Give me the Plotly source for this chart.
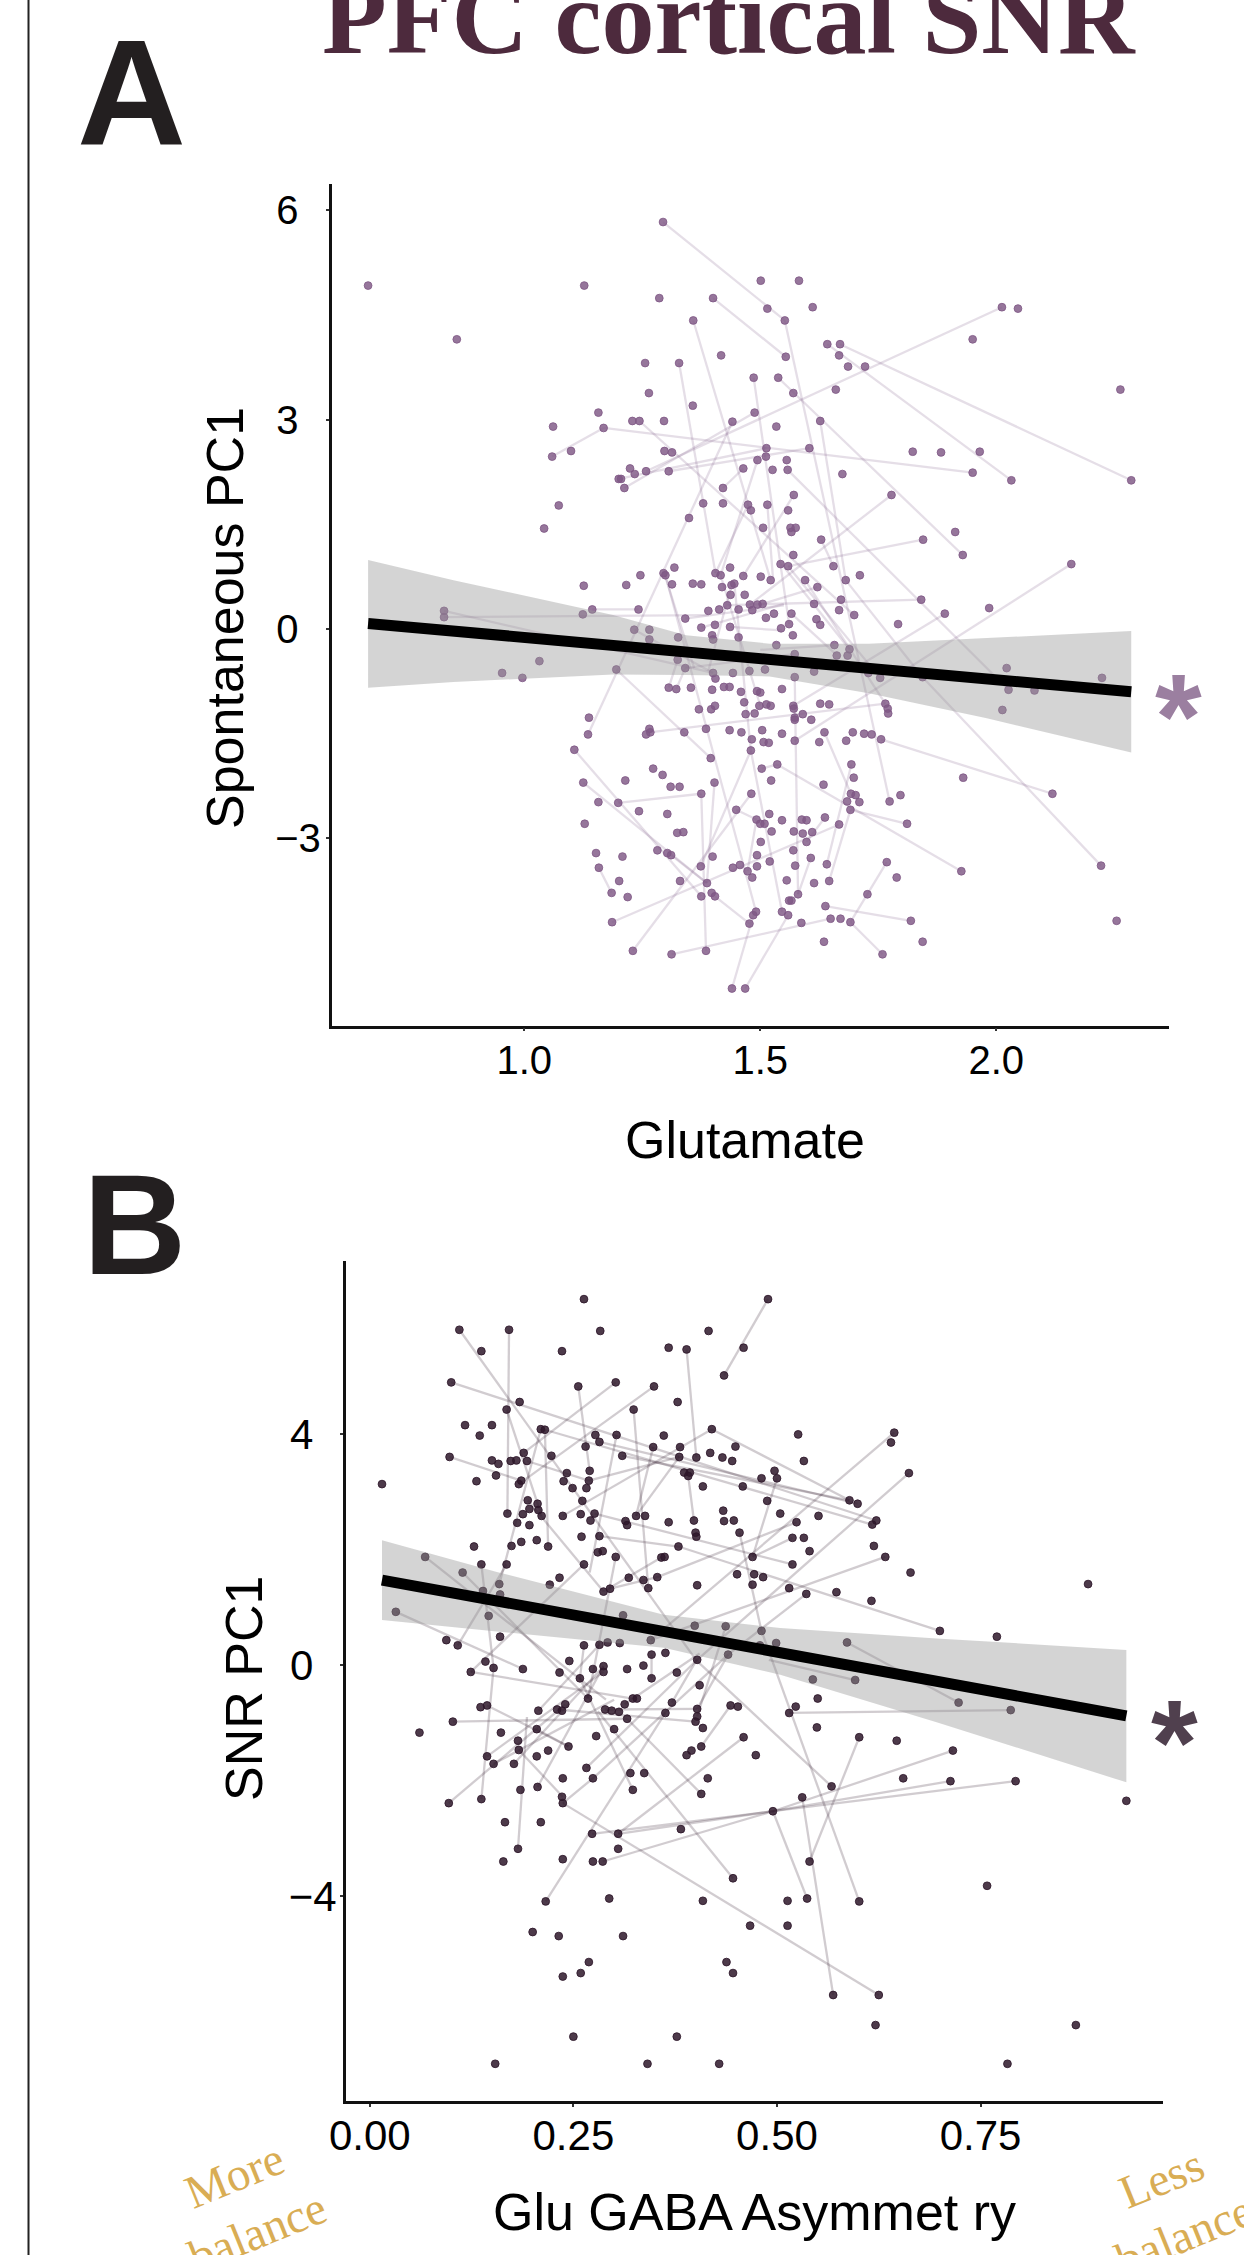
import plotly.graph_objects as go

W, H = 1244, 2255

glutamate = [
 1.294,1.501,0.669,1.127,1.286,1.400,1.515,1.358,0.857,1.417,1.256,1.328,1.486,1.538,1.264,1.357,1.157,1.488,1.229,1.244,
 1.296,1.441,1.061,1.168,1.534,1.513,1.099,1.297,1.313,1.059,1.512,1.494,1.224,1.464,1.526,1.258,1.306,1.234,1.200,1.205,
 1.212,1.421,1.379,1.421,1.474,1.515,1.480,1.073,1.349,1.042,1.506,1.318,1.436,1.543,1.295,1.405,1.246,1.299,1.416,1.464,
 1.501,1.522,
 1.582,1.611,2.012,2.046,1.552,1.554,1.950,1.642,1.669,1.667,1.686,1.722,1.570,1.660,2.263,1.627,1.604,1.823,1.883,1.965,
 1.556,1.558,1.950,1.674,2.032,2.286,1.571,1.778,1.559,1.564,1.575,1.566,1.913,1.629,1.845,1.570,1.929,1.559,1.655,2.159,
 1.711,1.595,1.681,
 1.126,1.216,1.313,1.357,1.375,1.419,1.439,1.445,1.437,1.467,1.430,1.478,1.494,1.505,0.830,1.144,1.242,1.390,1.413,1.454,
 1.483,0.830,1.124,1.341,1.512,1.529,1.404,1.375,1.436,1.544,1.233,1.265,1.265,1.326,1.398,1.400,1.454,1.534,1.325,1.032,
 1.195,1.341,1.400,1.442,1.477,1.510,0.953,0.996,1.405,1.306,1.322,1.353,1.423,1.435,1.398,1.546,1.459,1.493,1.500,1.466,
 1.513,1.522,1.498,1.370,1.396,1.404,1.469,1.488,1.137,1.265,1.267,1.258,1.135,1.339,1.385,1.435,1.460,1.504,1.546,1.482,
 1.507,1.518,1.480,1.106,1.395,1.536,1.273,1.503,1.293,1.214,1.523,1.125,1.403,1.310,1.329,1.375,1.481,1.157,1.199,1.243,
 1.449,1.303,1.519,1.546,1.492,1.500,1.509,1.128,1.524,1.324,1.337,1.501,1.282,1.152,1.303,1.311,1.208,1.399,1.493,1.520,
 1.374,1.442,1.457,1.493,1.158,1.473,1.483,1.201,1.330,1.387,1.185,1.397,1.404,1.375,1.219,1.546,1.491,1.485,1.186,1.477,
 1.230,1.385,1.312,1.440,1.468,
 1.621,1.841,1.671,1.614,1.667,1.985,1.566,1.891,1.699,1.619,1.627,1.792,1.561,1.569,1.657,1.689,1.662,1.685,1.573,2.022,
 1.614,1.729,1.573,1.754,2.224,1.844,2.026,2.081,2.013,1.570,1.571,1.627,1.646,1.765,1.770,1.771,1.590,1.573,1.573,1.608,
 1.636,1.696,1.720,1.736,1.573,1.625,1.682,1.756,1.693,1.930,1.698,1.634,2.119,1.692,1.702,1.797,1.684,1.774,1.710,1.691,
 1.637,1.588,1.598,1.667,1.811,1.571,1.590,1.610,1.598,1.570,1.607,1.768,1.574,1.641,2.222,1.926,1.789,1.556,1.614,1.646,
 1.580,1.727,1.561,1.566,1.638,1.559,1.587,1.649,1.670,1.691,1.819,2.255,1.635,1.844,1.759]
spontaneous_pc1 = [
 5.83,4.99,4.92,4.92,4.74,4.74,4.59,4.42,4.15,3.92,3.81,3.81,3.60,3.60,3.38,3.20,3.10,3.10,2.98,2.98,
 2.98,2.97,2.90,2.88,2.90,2.59,2.55,2.55,2.53,2.47,2.47,2.42,2.30,2.30,2.28,2.26,2.26,2.22,2.15,2.15,
 2.02,2.02,1.80,1.80,1.78,1.78,1.70,1.77,1.59,1.44,1.45,0.88,0.88,0.93,0.80,0.80,0.77,0.77,0.77,0.76,
 0.75,0.70,
 4.99,4.61,4.61,4.59,4.42,3.90,4.15,4.08,4.08,3.92,3.76,3.76,3.38,3.43,3.43,2.98,2.59,2.54,2.53,2.54,
 2.42,2.28,2.24,2.22,2.13,2.13,1.92,1.92,1.70,1.45,1.45,1.39,1.39,1.28,1.28,1.06,1.06,0.90,0.90,0.93,
 0.77,0.70,0.70,
 0.62,0.63,0.64,0.65,0.64,0.60,0.63,0.65,0.49,0.49,0.34,0.35,0.35,0.36,0.26,0.28,0.28,0.26,0.28,0.28,
 0.27,0.17,0.21,0.15,0.16,0.22,0.06,0.02,0.03,0.01,-0.01,-0.01,-0.15,-0.12,-0.09,-0.15,-0.12,-0.23,-0.44,-0.46,
 -0.58,-0.56,-0.63,-0.63,-0.60,-0.58,-0.63,-0.70,-0.71,-0.84,-0.86,-0.84,-0.83,-0.83,-0.87,-0.86,-0.90,-0.89,-0.91,-1.05,
 -1.08,-1.10,-1.10,-1.15,-1.15,-1.10,-1.22,-1.21,-1.27,-1.43,-1.48,-1.51,-1.51,-1.48,-1.43,-1.45,-1.48,-1.45,-1.50,-1.58,
 -1.62,-1.63,-1.74,-1.73,-1.85,-1.94,-2.00,-2.00,-2.09,-2.17,-2.17,-2.20,-2.20,-2.26,-2.26,-2.36,-2.36,-2.48,-2.49,-2.61,
 -2.59,-2.65,-2.65,-2.74,-2.73,-2.79,-2.79,-2.79,-2.90,-2.92,-2.91,-3.05,-3.17,-3.21,-3.21,-3.24,-3.26,-3.26,-3.24,-3.33,
 -3.40,-3.42,-3.38,-3.40,-3.42,-3.47,-3.56,-3.61,-3.61,-3.64,-3.78,-3.78,-3.83,-3.83,-3.84,-4.05,-4.05,-4.10,-4.20,-4.22,
 -4.61,-4.61,-4.66,-5.15,-5.15,
 0.60,0.42,0.42,0.36,0.27,0.30,0.22,0.22,0.20,0.14,0.06,0.07,0.07,-0.09,-0.23,-0.29,-0.38,-0.38,-0.36,-0.56,
 -0.61,-0.63,-0.69,-0.70,-0.70,-0.69,-0.87,-0.88,-1.16,-1.10,-1.14,-1.07,-1.08,-1.07,-1.14,-1.21,-1.22,-1.27,-1.30,-1.30,
 -1.48,-1.48,-1.50,-1.51,-1.60,-1.62,-1.60,-1.58,-1.94,-2.13,-2.13,-2.23,-2.36,-2.36,-2.38,-2.38,-2.47,-2.47,-2.48,-2.59,
 -2.70,-2.73,-2.74,-2.80,-2.79,-2.90,-2.93,-2.91,-3.05,-3.17,-3.28,-3.34,-3.39,-3.37,-3.39,-3.47,-3.56,-3.60,-3.64,-3.61,
 -3.80,-3.80,-3.89,-3.89,-3.97,-4.10,-4.21,-4.15,-4.15,-4.20,-4.18,-4.18,-4.48,-4.48,-4.66]

spontaneous_links = [
 (1.294,5.83,1.552,4.42),(1.552,4.42,1.774,-2.47),(1.627,2.98,1.681,0.70),(1.400,4.74,1.554,3.90),(1.538,3.60,1.929,1.06),
 (1.258,2.26,2.012,4.61),(1.669,4.08,2.286,2.13),(1.642,4.08,2.032,2.13),(1.059,2.47,1.168,2.88),(1.168,2.88,1.950,2.24),
 (1.200,2.15,1.513,2.59),(1.306,2.26,1.604,2.59),(1.212,2.02,1.488,3.10),(1.328,3.81,1.405,0.80),(1.358,4.42,1.522,0.70),
 (1.486,3.60,1.561,0.07),(1.244,2.98,1.699,0.20),(1.441,2.97,1.135,-1.51),(1.421,2.02,1.464,2.30),(1.494,2.42,1.416,0.77),
 (1.474,1.78,1.405,0.80),(1.515,1.78,1.527,0.72),(1.571,1.92,1.464,0.76),(1.778,1.92,1.478,0.35),(1.845,1.28,1.559,0.90),
 (1.629,1.28,1.655,0.90),(1.558,2.28,2.026,-0.87),(2.159,0.93,1.573,-1.60),(1.891,0.22,1.570,-1.10),(1.841,0.42,1.430,0.34),
 (1.844,-0.69,2.222,-3.39),(1.681,0.70,1.844,-0.69),(1.265,-1.48,1.765,-1.07),(1.756,-1.58,2.119,-2.36),(1.536,-1.94,1.926,-3.47),
 (1.691,-2.59,1.811,-2.79),(1.691,-2.59,1.646,-3.61),(1.693,-1.94,1.641,-3.37),(1.768,-3.34,1.691,-4.20),(1.638,-3.97,1.819,-4.18),
 (1.691,-4.20,1.759,-4.66),(1.312,-4.66,1.649,-4.15),(1.186,-4.20,1.667,-2.80),(1.637,-2.70,1.598,-3.05),(1.607,-3.28,1.580,-3.80),
 (1.573,-0.69,1.580,-3.80),(1.636,-1.48,1.692,-2.36),(1.106,-1.73,1.375,-3.83),(1.125,-2.20,1.387,-3.64),(1.199,-2.49,1.375,-2.36),
 (1.375,-2.36,1.385,-4.61),(1.403,-2.20,1.387,-3.64),(1.481,-2.36,1.230,-4.61),(1.158,-3.42,1.185,-3.78),(1.404,-3.83,1.477,-4.22),
 (1.311,-3.24,1.387,-3.64),(1.485,-4.10,1.440,-5.15),(1.468,-5.15,1.559,-4.10),(1.195,-0.58,1.395,-1.85),(1.299,0.77,1.491,-4.05),
 (0.830,0.26,1.400,-0.63),(0.830,0.17,1.390,0.20),(1.144,0.28,1.242,0.28),(1.341,-0.56,1.570,-0.36),(1.233,-0.01,1.400,-0.63),
 (1.375,0.02,1.550,0.36),(1.341,0.15,1.550,0.34),(1.436,0.03,1.546,-0.02),(1.480,-1.74,1.546,-4.05),(1.480,-1.74,1.374,-3.40),
 (1.449,-2.59,1.492,-2.73),(1.492,-2.73,1.473,-3.47),(1.621,0.60,1.505,0.36),(1.545,0.93,1.689,-0.29),(1.595,0.70,1.765,-1.07),
 (1.559,0.90,1.754,-0.70),(1.657,-0.23,1.500,-0.30),(1.566,0.22,1.660,-0.36),(1.439,0.63,1.390,-0.60),(1.322,-0.86,1.341,-0.56),
 (1.306,-0.84,1.325,-0.44),(1.445,0.65,1.480,-1.74),(1.416,0.77,1.500,-1.10),(1.536,-1.94,1.503,-2.00),(1.298,0.77,1.360,-0.56),
]

asymmetry = [
 .263,.489,.110,.171,.283,.416,.137,.236,.367,.389,.459,.435,.100,.302,.256,.349,.184,.378,.168,.324,
 .117,.150,.135,.210,.215,.420,.277,.303,.361,.282,.265,.348,.381,.449,.189,.418,.223,.310,.098,.380,
 .401,.433,.445,.150,.158,.173,.180,.193,.497,.270,.242,.386,.393,.391,.481,.500,.155,.131,.269,.238,
 .186,.183,.015,.409,.458,.249,.266,.488,.261,.194,.206,.196,.207,.434,.169,.276,.504,.188,.211,.237,
 .259,.327,.338,.271,.314,.367,.398,.435,.447,.181,.196,.316,.400,.454,.401,.260,.282,.186,.205,.174,
 .128,.219,.379,.280,.286,.068,.302,.358,.362,.470,.137,.168,.263,.114,.451,.472,.483,.233,.318,.336,
 .353,.159,.221,.402,.470,.342,.295,.287,.139,.160,.032,.146,.311,.399,.437,.481,.160,.094,.108,.263,
 .282,.292,.307,.345,.499,.479,.363,.346,.440,.402,
 .526,.644,.640,.533,.662,.589,.599,.551,.524,.622,.617,.519,.533,.619,.540,.633,.519,.664,.882,.515,
 .536,.573,.616,.700,.770,.586,
 .142,.152,.245,.188,.124,.233,.274,.287,.287,.316,.336,.377,.258,.346,.405,.268,.323,.328,.313,.371,
 .240,.443,.452,.136,.144,.207,.230,.236,.289,.297,.306,.363,.402,.402,.316,.102,.400,.205,.300,.409,
 .061,.161,.278,.459,.182,.244,.407,.183,.219,.395,.389,.205,.144,.474,.152,.177,.266,.237,.274,.415,
 .320,.337,.206,.185,.323,.407,.236,.237,.137,.097,.495,.166,.210,.382,.273,.305,.182,.305,.237,.164,
 .274,.286,.446,.294,.216,.409,.467,.200,.232,.311,.269,.438,.259,.446,.237,.250,.377,.154,.341,.429,
 .544,.596,.550,.723,.523,.515,.787,.549,.601,.647,.716,.655,.713,.793,.567,.531,.929,.540,.758,.513,
 .537,.601,.513,.569,.625,.621,.867,.783]
snr_pc1 = [
 6.33,6.33,5.80,5.80,5.78,5.78,5.43,5.43,5.49,5.46,5.49,5.01,4.89,4.89,4.82,4.82,4.55,4.55,4.42,4.42,
 4.15,4.15,3.97,4.08,4.07,4.08,3.98,3.98,3.97,3.86,3.78,3.77,3.77,3.78,3.67,3.67,3.62,3.62,3.60,3.60,
 3.59,3.59,3.53,3.54,3.48,3.53,3.54,3.53,3.36,3.36,3.32,3.33,3.33,3.27,3.23,3.23,3.28,3.18,3.19,3.18,
 3.19,3.13,3.13,3.09,3.09,3.06,3.06,2.84,2.84,2.85,2.79,2.70,2.68,2.67,2.62,2.62,2.62,2.61,2.58,2.58,
 2.61,2.58,2.58,2.50,2.49,2.47,2.50,2.49,2.50,2.46,2.42,2.42,2.29,2.29,2.22,2.22,2.23,2.13,2.16,2.06,
 2.05,2.05,2.05,1.95,1.97,1.87,1.87,1.86,1.87,1.87,1.74,1.74,1.74,1.60,1.57,1.57,1.52,1.51,1.51,1.47,
 1.52,1.40,1.39,1.38,1.39,1.33,1.32,1.27,1.28,1.22,0.92,0.85,0.86,0.68,0.67,0.59,0.49,0.43,0.34,0.34,
 0.35,0.39,0.38,0.43,0.38,0.34,0.21,0.18,0.18,0.09,
 3.99,4.02,3.85,3.53,3.32,2.85,2.79,2.58,2.47,2.50,2.43,2.20,2.20,2.06,1.97,1.87,1.74,1.60,1.40,1.33,
 1.23,1.26,1.11,0.59,0.49,0.39,
 0.06,-0.05,0.07,-0.07,-0.12,-0.13,-0.07,-0.02,-0.12,-0.07,-0.01,-0.13,-0.23,-0.23,-0.35,-0.58,-0.58,-0.58,-0.68,-0.65,
 -0.68,-0.70,-0.72,-0.73,-0.70,-0.79,-0.77,-0.79,-0.77,-0.79,-0.81,-0.83,-0.76,-0.89,-0.93,-0.98,-0.98,-1.11,-1.11,-1.09,
 -1.17,-1.17,-1.23,-1.25,-1.31,-1.41,-1.41,-1.47,-1.48,-1.48,-1.56,-1.58,-1.58,-1.56,-1.71,-1.71,-1.78,-1.96,-1.96,-1.96,
 -1.87,-1.87,-2.11,-2.16,-2.16,-2.23,-2.28,-2.39,-2.32,-2.39,-2.53,-2.72,-2.72,-2.84,-2.92,-2.92,-3.18,-3.18,-3.36,-3.40,
 -3.40,-3.40,-3.69,-4.04,-4.09,-4.08,-4.51,-4.62,-4.69,-4.69,-5.14,-5.14,-5.33,-5.33,-5.39,-6.43,-6.43,-6.90,-6.90,-6.90,
 -0.25,-0.26,-0.58,-0.65,-0.72,-0.83,-0.78,-1.08,-1.25,-1.31,-1.48,-1.96,-2.01,-2.01,-2.10,-2.29,-2.35,-3.40,-3.82,-4.08,
 -4.04,-4.09,-4.51,-5.71,-5.71,-6.23,-6.23,-6.90]

snr_links = [
 (.110,5.80,.401,.08),(.171,5.80,.169,2.62),(.100,4.89,.622,2.50),(.302,4.89,.189,3.67),(.349,4.82,.183,3.13),
 (.256,4.82,.270,3.36),(.389,5.46,.401,3.59),(.489,6.33,.435,5.01),(.324,4.42,.342,1.33),(.168,4.42,.211,2.58),
 (.210,4.08,.159,1.40),(.215,4.07,.219,2.05),(.420,4.08,.237,2.58),(.420,4.08,.589,2.85),(.215,4.07,.617,2.43),
 (.282,3.86,.599,2.79),(.310,3.62,.589,2.85),(.303,3.98,.270,1.60),(.348,3.77,.327,2.58),(.380,3.60,.327,2.58),
 (.098,3.60,.186,3.19),(.193,3.53,.269,3.19),(.269,3.19,.380,3.60),(.391,3.27,.398,2.50),(.454,2.29,.481,.59),
 (.500,3.23,.470,1.87),(.194,2.85,.287,1.27),(.068,1.87,.290,-.60),(.114,1.60,.268,-.58),(.032,.92,.188,-.07),
 (.124,-.12,.323,-.58),(.102,-.98,.316,-.93),(.097,-2.39,.240,-.68),(.137,-2.32,.152,-.05),(.182,-3.18,.193,-.90),
 (.216,-4.09,.363,-.83),(.237,-2.39,.625,-5.71),(.273,-2.92,.495,-2.53),(.286,-3.40,.495,-2.53),(.305,-2.92,.495,-2.53),
 (.495,-2.53,.793,-2.01),(.495,-2.53,.713,-2.01),(.495,-2.53,.716,-1.48),(.305,-2.92,.459,-1.25),(.280,-.80,.446,-3.69),
 (.407,-1.41,.443,-.70),(.316,-.93,.407,-2.23),(.495,-2.53,.537,-4.04),(.531,-2.29,.569,-5.71),(.601,-1.25,.540,-3.40),
 (.515,-.83,.787,-.78),(.490,.09,.596,-.26),(.586,.39,.723,-.65),(.481,.59,.601,-4.09),(.401,.08,.567,-2.10),
 (.379,2.05,.700,.59),(.345,.43,.633,1.87),(.644,4.02,.345,.43),(.662,3.32,.402,.09),(.536,1.23,.440,.18),
 (.519,2.20,.470,1.87),(.524,2.47,.353,1.52),(.276,2.62,.519,1.74),(.282,2.23,.379,2.05),(.263,1.74,.124,-.12),
 (.302,1.87,.268,-.58),(.358,1.86,.287,1.27),(.353,1.52,.295,1.32),(.137,1.74,.152,-.05),(.168,1.74,.108,.34),
 (.144,-1.58,.287,-.12),(.152,-1.71,.300,-.60),(.177,-1.71,.287,-.02),(.206,-2.11,.287,-.02),(.266,-1.78,.402,.09),
 (.274,-1.96,.440,.18),(.207,-.79,.282,.35),(.144,-.70,.244,-1.41),(.183,-1.47,.237,-2.28),(.237,-2.39,.274,-1.96),
 (.402,-.89,.437,.67),(.402,-.76,.440,.18),(.371,-.65,.401,.08),(.346,.18,.346,-.23),(.313,-.68,.405,.20),
 (.323,-2.16,.258,-.23),(.258,-.23,.263,.34),(.289,-.77,.402,-.76),(.230,-.77,.400,-.98),(.205,-1.11,.244,-1.41),
]

a_ribbon_x = [0.669,0.850,1.188,1.343,1.520,1.730,1.980,2.286]
a_ribbon_hi = [0.99,0.70,0.20,-0.09,-0.21,-0.21,-0.13,-0.03]
a_ribbon_lo = [-0.84,-0.76,-0.65,-0.66,-0.68,-0.92,-1.28,-1.77]
a_fit_x = [0.669,2.286]
a_fit_y = [0.08,-0.90]

b_ribbon_x = [0.015,0.156,0.361,0.504,0.696,0.929]
b_ribbon_hi = [2.16,1.61,0.87,0.64,0.46,0.26]
b_ribbon_lo = [0.78,0.58,0.30,-0.17,-0.99,-2.03]
b_fit_x = [0.015,0.929]
b_fit_y = [1.47,-0.88]

a_xticks = [1.0,1.5,2.0]
a_xticktext = ["1.0","1.5","2.0"]
a_yticks = [-3,0,3,6]
a_yticktext = ["\u22123","0\u00a0\u00a0","3\u00a0\u00a0","6\u00a0\u00a0"]
b_xticks = [0,0.25,0.5,0.75]
b_xticktext = ["0.00","0.25","0.50","0.75"]
b_yticks = [-4,0,4]
b_yticktext = ["\u22124","0\u00a0\u00a0","4\u00a0\u00a0"]

SANS = "Liberation Sans, Arial, sans-serif"
SERIF = "Liberation Serif, Times New Roman, serif"
A_DOT = "rgba(127,88,133,0.82)"
A_LINE = "rgba(127,88,133,0.20)"
B_DOT = "rgba(46,24,42,0.85)"
B_LINE = "rgba(46,24,42,0.22)"
RIBBON = "rgba(153,153,153,0.42)"

fig = go.Figure()


def panel(xs, ys, links, rx, hi, lo, fx, fy, dot, line, xa, ya):
    for x0, y0, x1, y1 in links:
        fig.add_trace(go.Scatter(x=[x0, x1], y=[y0, y1], mode="lines", xaxis=xa, yaxis=ya,
                                 line=dict(color=line, width=2.3), hoverinfo="skip", showlegend=False))
    fig.add_trace(go.Scatter(x=xs, y=ys, mode="markers", xaxis=xa, yaxis=ya, showlegend=False,
                             marker=dict(size=7.8, color=dot, line=dict(color=dot, width=1))))
    fig.add_trace(go.Scatter(x=rx + rx[::-1], y=hi + lo[::-1], mode="lines", fill="toself", xaxis=xa, yaxis=ya,
                             fillcolor=RIBBON, line=dict(width=0), hoverinfo="skip", showlegend=False))
    fig.add_trace(go.Scatter(x=fx, y=fy, mode="lines", xaxis=xa, yaxis=ya, showlegend=False,
                             line=dict(color="black", width=11)))


panel(glutamate, spontaneous_pc1, spontaneous_links, a_ribbon_x, a_ribbon_hi, a_ribbon_lo,
      a_fit_x, a_fit_y, A_DOT, A_LINE, "x", "y")
panel(asymmetry, snr_pc1, snr_links, b_ribbon_x, b_ribbon_hi, b_ribbon_lo,
      b_fit_x, b_fit_y, B_DOT, B_LINE, "x2", "y2")


def dom_x(a, b):
    return [a / W, b / W]


def dom_y(top, bottom):
    return [1 - bottom / H, 1 - top / H]


def axis(**kw):
    base = dict(showgrid=False, zeroline=False, showline=True, linecolor="#111111", ticks="outside",
                tickcolor="#333333", ticklen=3, tickwidth=2, automargin=False)
    base.update(kw)
    return base


fig.update_layout(
    width=W, height=H, margin=dict(l=0, r=0, t=0, b=0), paper_bgcolor="white", plot_bgcolor="white",
    showlegend=False, font=dict(family=SANS, color="black"),
    xaxis=axis(domain=dom_x(331.5, 1169), range=[0.5915, 2.366], anchor="y", linewidth=2.5,
               tickvals=a_xticks, ticktext=a_xticktext, tickfont=dict(size=40), ticklabelstandoff=-5),
    yaxis=axis(domain=dom_y(184, 1025.5), range=[-5.68, 6.375], anchor="x", linewidth=2.5,
               tickvals=a_yticks, ticktext=a_yticktext, tickfont=dict(size=40), ticklabelstandoff=-3),
    xaxis2=axis(domain=dom_x(346, 1163), range=[-0.0292, 0.974], anchor="y2", linewidth=3,
                tickvals=b_xticks, ticktext=b_xticktext, tickfont=dict(size=42), ticklabelstandoff=-7),
    yaxis2=axis(domain=dom_y(1261, 2100.5), range=[-7.535, 6.99], anchor="x2", linewidth=3,
                tickvals=b_yticks, ticktext=b_yticktext, tickfont=dict(size=42), ticklabelstandoff=-5),
    shapes=[dict(type="line", xref="paper", yref="paper", x0=28.5 / W, x1=28.5 / W, y0=0, y1=1,
                 line=dict(color="#222222", width=2))],
)


def note(text, cx, cy, size, color, family=SANS, bold=False, angle=0):
    fig.add_annotation(text=f"<b>{text}</b>" if bold else text, x=cx / W, y=1 - cy / H, xref="paper", yref="paper",
                       xanchor="center", yanchor="middle", showarrow=False, textangle=angle,
                       font=dict(size=size, color=color, family=family))


note("PFC cortical SNR", 729, 18, 106, "#4d2a3d", SERIF, True)
note("A", 131, 91, 151, "#231f20", SANS, True)
note("B", 134, 1224, 143, "#231f20", SANS, True)
note("*", 1178, 716, 120, "#9b7fa0", SANS, True)
note("*", 1174, 1742, 120, "#50404e", SANS, True)
note("More<br>balance", 246, 2203, 47, "#d9ad54", SERIF, False, -22)
note("Less<br>balance", 1173, 2206, 47, "#d9ad54", SERIF, False, -22)
note("Glutamate", 745, 1140, 52, "black")
note("Glu GABA Asymmet ry", 754, 2212, 52, "black")
note("Spontaneous PC1", 225, 618, 52, "black", angle=-90)
note("SNR PC1", 244, 1689, 52, "black", angle=-90)

fig.write_html("out.html", config={"displayModeBar": False},
               post_script="document.body.style.margin='0';document.body.style.overflow='hidden';")
